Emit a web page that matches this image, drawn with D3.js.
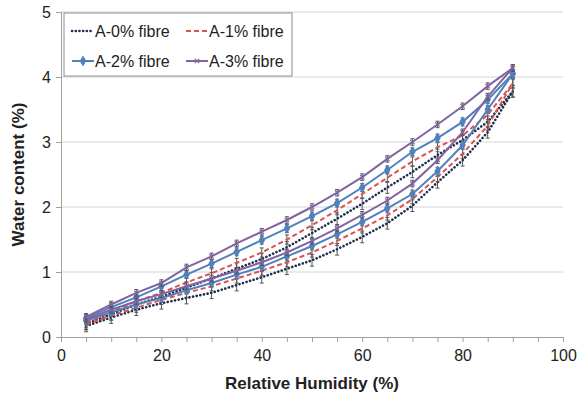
<!DOCTYPE html>
<html>
<head>
<meta charset="utf-8">
<script src="https://cdn.jsdelivr.net/npm/d3@7"></script>
<style>
  body { margin: 0; background: #fff; }
  svg { font-family: "Liberation Sans", Arial, sans-serif; }
</style>
</head>
<body>
<div id="chart"></div>
<script>
// Relative humidity steps (%)
let rh = [5, 10, 15, 20, 25, 30, 35, 40, 45, 50, 55, 60, 65, 70, 75, 80, 85, 90];

// water content (%) - adsorption (lower) and desorption (upper) branches
let ads0 = [0.17, 0.30, 0.42, 0.52, 0.60, 0.68, 0.80, 0.92, 1.05, 1.18, 1.35, 1.54, 1.75, 2.02, 2.38, 2.72, 3.15, 3.78];
let des0 = [0.20, 0.35, 0.50, 0.62, 0.76, 0.90, 1.05, 1.20, 1.38, 1.60, 1.82, 2.05, 2.30, 2.54, 2.80, 3.03, 3.31, 3.78];
let ads1 = [0.19, 0.33, 0.45, 0.57, 0.68, 0.78, 0.90, 1.02, 1.15, 1.30, 1.48, 1.67, 1.87, 2.12, 2.46, 2.82, 3.25, 3.90];
let des1 = [0.22, 0.38, 0.55, 0.68, 0.84, 0.98, 1.14, 1.30, 1.50, 1.72, 1.95, 2.20, 2.45, 2.70, 2.92, 3.10, 3.42, 3.90];
let ads2 = [0.25, 0.38, 0.50, 0.60, 0.72, 0.83, 0.96, 1.08, 1.24, 1.40, 1.58, 1.77, 1.98, 2.20, 2.55, 2.95, 3.50, 4.05];
let des2 = [0.29, 0.46, 0.61, 0.78, 0.96, 1.13, 1.31, 1.49, 1.67, 1.86, 2.06, 2.30, 2.57, 2.85, 3.06, 3.31, 3.65, 4.05];
let ads3 = [0.27, 0.42, 0.55, 0.66, 0.78, 0.90, 1.02, 1.15, 1.30, 1.48, 1.67, 1.88, 2.10, 2.36, 2.72, 3.15, 3.70, 4.14];
let des3 = [0.31, 0.50, 0.68, 0.83, 1.07, 1.24, 1.44, 1.62, 1.80, 2.00, 2.22, 2.46, 2.74, 3.00, 3.27, 3.55, 3.86, 4.14];

// standard deviation per sample
let errs = [0.09, 0.07, 0.06, 0.05];

let names = ["A-0% fibre", "A-1% fibre", "A-2% fibre", "A-3% fibre"];
let xTicks = [0, 20, 40, 60, 80, 100];
let yTicks = [0, 1, 2, 3, 4, 5];

let series = [
  { name: names[0], ads: ads0, des: des0, err: errs[0], color: "#1f2f4f", dash: "0.1,3.6", width: 2.6, cap: "round", marker: null },
  { name: names[1], ads: ads1, des: des1, err: errs[1], color: "#d9534f", dash: "5,3", width: 2, cap: "butt", marker: null },
  { name: names[2], ads: ads2, des: des2, err: errs[2], color: "#4f81bd", dash: null, width: 2, cap: "butt", marker: d3.symbolDiamond },
  { name: names[3], ads: ads3, des: des3, err: errs[3], color: "#8064a2", dash: null, width: 2, cap: "butt", marker: d3.symbolTimes || d3.symbolCross }
];

// svg size & margins
let svgWidth = 578;
let svgHeight = 401;
let margin = { top: 12, right: 15, bottom: 64, left: 61 };
let chartWidth = svgWidth - margin.left - margin.right;
let chartHeight = svgHeight - margin.top - margin.bottom;

let svg = d3.select("#chart")
  .append("svg")
  .attr("width", svgWidth)
  .attr("height", svgHeight);

let chartGroup = svg.append("g")
  .attr("transform", `translate(${margin.left}, ${margin.top})`);

let xScale = d3.scaleLinear().domain([0, 100]).range([0, chartWidth - 0]);
let yScale = d3.scaleLinear().domain([0, 5]).range([chartHeight, 0]);

// gridlines
chartGroup.append("g")
  .selectAll("line")
  .data(yTicks.filter(d => d > 0))
  .enter()
  .append("line")
  .attr("x1", 0)
  .attr("x2", xScale(100))
  .attr("y1", d => yScale(d))
  .attr("y2", d => yScale(d))
  .attr("stroke", "#d4d4d4")
  .attr("stroke-width", 1);

// x axis: minor ticks every 5, labels every 20
let xAxis = d3.axisBottom(xScale)
  .tickValues(d3.range(0, 101, 5))
  .tickSize(5)
  .tickFormat(d => xTicks.includes(d) ? d : "");
let gx = chartGroup.append("g")
  .attr("transform", `translate(0, ${chartHeight})`)
  .call(xAxis);
gx.select(".domain").attr("stroke", "#a0a0a0");
gx.selectAll(".tick line").attr("stroke", "#a0a0a0");
gx.selectAll("text")
  .attr("font-size", "16px")
  .attr("fill", "#222")
  .attr("dy", "1.0em")
  .style("font-family", "Liberation Sans, Arial, sans-serif");

// y axis
let yAxis = d3.axisLeft(yScale).tickValues(yTicks).tickSize(5).tickFormat(d3.format("d"));
let gy = chartGroup.append("g").call(yAxis);
gy.select(".domain").attr("stroke", "#a0a0a0");
gy.selectAll(".tick line").attr("stroke", "#a0a0a0");
gy.selectAll("text")
  .attr("font-size", "16px")
  .attr("fill", "#222")
  .attr("x", -10)
  .style("font-family", "Liberation Sans, Arial, sans-serif");

// axis titles
svg.append("text")
  .attr("x", margin.left + xScale(50))
  .attr("y", 389)
  .attr("text-anchor", "middle")
  .attr("font-weight", "bold")
  .attr("font-size", "17px")
  .attr("fill", "#222")
  .text("Relative Humidity (%)");
svg.append("text")
  .attr("transform", `translate(24, ${margin.top + yScale(2.5)}) rotate(-90)`)
  .attr("text-anchor", "middle")
  .attr("font-weight", "bold")
  .attr("font-size", "17px")
  .attr("fill", "#222")
  .text("Water content (%)");

let line = d3.line()
  .x(d => xScale(d[0]))
  .y(d => yScale(d[1]));

// draw each sample: error bars, both branches, markers
series.forEach(function(s) {
  let g = chartGroup.append("g");
  [s.ads, s.des].forEach(function(branch) {
    let pts = rh.map((x, i) => [x, branch[i]]);
    // error bars
    let eb = g.append("g")
      .selectAll("g")
      .data(pts)
      .enter()
      .append("g")
      .attr("stroke", "#555")
      .attr("stroke-width", 1);
    eb.append("line")
      .attr("x1", d => xScale(d[0]))
      .attr("x2", d => xScale(d[0]))
      .attr("y1", d => yScale(d[1] - s.err))
      .attr("y2", d => yScale(d[1] + s.err));
    eb.append("line")
      .attr("x1", d => xScale(d[0]) - 2)
      .attr("x2", d => xScale(d[0]) + 2)
      .attr("y1", d => yScale(d[1] + s.err))
      .attr("y2", d => yScale(d[1] + s.err));
    eb.append("line")
      .attr("x1", d => xScale(d[0]) - 2)
      .attr("x2", d => xScale(d[0]) + 2)
      .attr("y1", d => yScale(d[1] - s.err))
      .attr("y2", d => yScale(d[1] - s.err));

    g.append("path")
      .datum(pts)
      .attr("d", line)
      .attr("fill", "none")
      .attr("stroke", s.color)
      .attr("stroke-width", s.width)
      .attr("stroke-linecap", s.cap)
      .attr("stroke-dasharray", s.dash);

    if (s.marker) {
      g.append("g")
        .selectAll("path")
        .data(pts)
        .enter()
        .append("path")
        .attr("transform", d => `translate(${xScale(d[0])}, ${yScale(d[1])})`)
        .attr("d", d3.symbol().type(s.marker).size(s.marker === d3.symbolDiamond ? 22 : 14))
        .attr("fill", s.marker === d3.symbolDiamond ? s.color : "none")
        .attr("stroke", s.color)
        .attr("stroke-width", 1.2);
    }
  });
});

// legend
let legend = svg.append("g").attr("transform", "translate(64, 13)");
legend.append("rect")
  .attr("width", 228)
  .attr("height", 63)
  .attr("fill", "#fff")
  .attr("stroke", "#8c8c8c")
  .attr("stroke-width", 1);

let legendPos = [[8, 18], [122, 18], [8, 48], [122, 48]];
series.forEach(function(s, i) {
  let lg = legend.append("g")
    .attr("transform", `translate(${legendPos[i][0]}, ${legendPos[i][1]})`);
  lg.append("line")
    .attr("x1", 0).attr("x2", 22)
    .attr("y1", 0).attr("y2", 0)
    .attr("stroke", s.color)
    .attr("stroke-width", s.width)
    .attr("stroke-linecap", s.cap)
    .attr("stroke-dasharray", s.dash);
  if (s.marker) {
    lg.append("path")
      .attr("transform", "translate(11, 0)")
      .attr("d", d3.symbol().type(s.marker).size(s.marker === d3.symbolDiamond ? 22 : 14))
      .attr("fill", s.marker === d3.symbolDiamond ? s.color : "none")
      .attr("stroke", s.color)
      .attr("stroke-width", 1.2);
  }
  lg.append("text")
    .attr("x", 23)
    .attr("y", 0)
    .attr("dy", "0.35em")
    .attr("font-size", "16px")
    .attr("fill", "#222")
    .text(s.name);
});
</script>
</body>
</html>
